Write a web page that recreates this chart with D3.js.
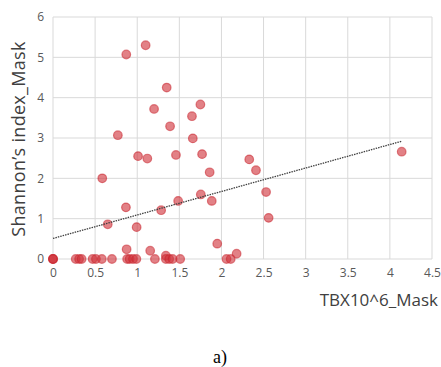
<!DOCTYPE html>
<html lang="en">
<head>
<meta charset="UTF-8">
<title>Shannon index vs TBX</title>
<script src="https://cdn.jsdelivr.net/npm/d3@7"></script>
<style>
  body { margin: 0; background: #fff; }
</style>
</head>
<body>
<svg id="chart" width="441" height="367"></svg>
<script>
// data
var tbx = [0.87, 1.10, 1.35, 1.20, 1.75, 1.65, 1.39, 0.77, 1.66, 1.01,
           1.12, 1.46, 1.77, 1.86, 0.585, 0.866, 1.755, 1.885, 1.486, 1.284,
           0.65, 0.993, 0.874, 1.154, 1.95, 2.33, 2.41, 2.53, 2.56, 4.14,
           2.18, 1.34,
           0, 0, 0, 0.27, 0.31, 0.34, 0.47, 0.51, 0.58, 0.70, 0.88, 0.91,
           0.95, 0.99, 1.21, 1.34, 1.38, 1.42, 1.51, 2.06, 2.11];
var shannon = [5.07, 5.30, 4.25, 3.72, 3.83, 3.54, 3.29, 3.07, 2.99, 2.55,
               2.49, 2.58, 2.60, 2.15, 2.00, 1.28, 1.60, 1.44, 1.44, 1.21,
               0.86, 0.79, 0.24, 0.205, 0.38, 2.47, 2.20, 1.66, 1.02, 2.66,
               0.13, 0.08,
               0, 0, 0, 0, 0, 0, 0, 0, 0, 0, 0, 0,
               0, 0, 0, 0, 0, 0, 0, 0, 0];
var xTicks = [0, 0.5, 1, 1.5, 2, 2.5, 3, 3.5, 4, 4.5];
var yTicks = [0, 1, 2, 3, 4, 5, 6];
// linear trend line as shown
var trendIntercept = 0.51;
var trendSlope = 0.582;

var svg = d3.select("#chart");
var plotL = 53, plotR = 432, plotT = 17, plotB = 259;

var x = d3.scaleLinear().domain([0, 4.5]).range([plotL, plotR]);
var y = d3.scaleLinear().domain([0, 6]).range([plotB, plotT]);

// gridlines
svg.append("g")
    .selectAll("line")
    .data(xTicks)
    .enter()
    .append("line")
    .attr("x1", function (d) { return x(d); })
    .attr("x2", function (d) { return x(d); })
    .attr("y1", plotT)
    .attr("y2", plotB)
    .attr("stroke", "#d9d9d9")
    .attr("stroke-width", 1);

svg.append("g")
    .selectAll("line")
    .data(yTicks)
    .enter()
    .append("line")
    .attr("x1", plotL)
    .attr("x2", plotR)
    .attr("y1", function (d) { return y(d); })
    .attr("y2", function (d) { return y(d); })
    .attr("stroke", "#d9d9d9")
    .attr("stroke-width", 1);

// axes (labels only)
var xAxis = svg.append("g")
    .attr("transform", "translate(0," + plotB + ")")
    .call(d3.axisBottom(x).tickValues(xTicks).tickSize(0).tickPadding(9)
        .tickFormat(function (d) { return String(d); }));
var yAxis = svg.append("g")
    .attr("transform", "translate(" + plotL + ",0)")
    .call(d3.axisLeft(y).tickValues(yTicks).tickSize(0).tickPadding(9)
        .tickFormat(d3.format("d")));

[xAxis, yAxis].forEach(function (a) {
    a.select(".domain").remove();
    a.selectAll("text")
        .attr("fill", "#595959")
        .style("font-family", "'Open Sans', 'Liberation Sans', sans-serif")
        .style("font-size", "12px");
});

// points
var pts = tbx.map(function (v, i) { return {x: v, y: shannon[i]}; });
svg.append("g")
    .selectAll("circle")
    .data(pts)
    .enter()
    .append("circle")
    .attr("cx", function (d) { return x(d.x); })
    .attr("cy", function (d) { return y(d.y); })
    .attr("r", 4.3)
    .attr("fill", "#d0343c")
    .attr("fill-opacity", 0.62)
    .attr("stroke", "#c8232c")
    .attr("stroke-opacity", 0.55)
    .attr("stroke-width", 1.2);

// trend line
var xMax = d3.max(tbx);
svg.append("line")
    .attr("x1", x(0))
    .attr("y1", y(trendIntercept))
    .attr("x2", x(xMax))
    .attr("y2", y(trendIntercept + trendSlope * xMax))
    .attr("stroke", "#404040")
    .attr("stroke-width", 1.3)
    .attr("stroke-dasharray", "1.5,1");

// axis titles
svg.append("text")
    .attr("transform", "translate(25,139) rotate(-90)")
    .attr("text-anchor", "middle")
    .attr("fill", "#404040")
    .style("font-family", "'Open Sans', 'Liberation Sans', sans-serif")
    .style("font-size", "18px")
    .style("letter-spacing", "0.3px")
    .text("Shannon’s index_Mask");

svg.append("text")
    .attr("x", 438)
    .attr("y", 306)
    .attr("text-anchor", "end")
    .attr("fill", "#404040")
    .style("font-family", "'Open Sans', 'Liberation Sans', sans-serif")
    .style("font-size", "17px")
    .text("TBX10^6_Mask");

svg.append("text")
    .attr("x", 220)
    .attr("y", 363)
    .attr("text-anchor", "middle")
    .attr("fill", "#000")
    .style("font-family", "'Liberation Serif', 'DejaVu Serif', serif")
    .style("font-size", "18px")
    .text("a)");
</script>
</body>
</html>
